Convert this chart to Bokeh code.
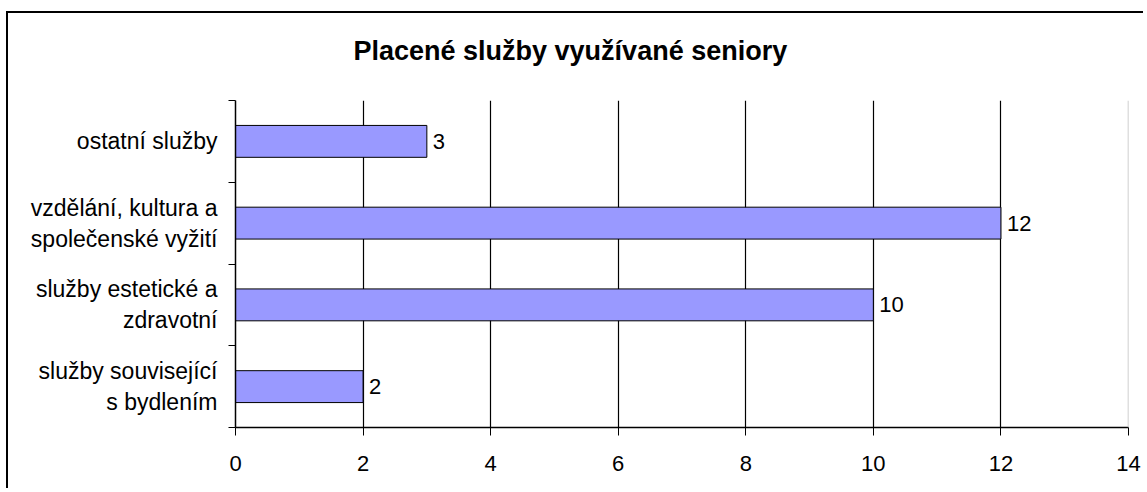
import numpy as np
from bokeh.plotting import figure
from bokeh.models import FixedTicker, Span, Range1d, Title
from bokeh.core.properties import value
from bokeh.embed import file_html
from bokeh.resources import INLINE

# Data (bottom to top)
categories = [
    "služby související\ns bydlením",
    "služby estetické a\nzdravotní",
    "vzdělání, kultura a\nspolečenské vyžití",
    "ostatní služby",
]
values = [2, 10, 12, 3]
x_ticks = [0, 2, 4, 6, 8, 10, 12, 14]
title_text = "Placené služby využívané seniory"

FONT = "Liberation Sans"

ypos = np.arange(len(categories)) + 0.5

p = figure(
    width=1137, height=477,
    output_backend="svg", toolbar_location=None,
    x_range=Range1d(0, 14), y_range=Range1d(0, len(categories)),
    min_border_left=227, min_border_right=17, min_border_top=87, min_border_bottom=63,
)
p.styles = {"border-left": "2px solid black", "border-top": "2px solid black",
            "margin-top": "11px", "margin-left": "6px"}
p.outline_line_color = None
p.background_fill_color = "white"
p.border_fill_color = "white"

# spacer between the title and the plot area
p.add_layout(Title(text=" ", text_font_size="1px", standoff=32), "above")

p.title.text = title_text
p.title.text_font = FONT
p.title.text_font_size = "27px"
p.title.text_font_style = "bold"
p.title.text_color = "black"
p.title.align = "left"
p.title.offset = 118
p.title.standoff = 0

# bars
p.hbar(y=ypos, right=values, left=0, height=0.39, fill_color="#9999FF",
       line_color="black", line_width=1)
p.text(x=values, y=ypos, text=[str(v) for v in values], x_offset=6,
       text_baseline="middle", text_align="left",
       text_font=value(FONT), text_font_size="22px", text_color="black")

# x axis
xa = p.xaxis[0]
xa.ticker = FixedTicker(ticks=x_ticks)
xa.major_tick_out = 8
xa.major_tick_in = 0
xa.minor_tick_out = 0
xa.minor_tick_in = 0
xa.axis_line_color = "black"
xa.axis_line_width = 1.5
xa.major_tick_line_color = "black"
xa.major_label_text_font = FONT
xa.major_label_text_font_size = "22px"
xa.major_label_text_color = "black"
xa.major_label_standoff = 20

# y axis
ya = p.yaxis[0]
ya.ticker = FixedTicker(ticks=list(ypos), minor_ticks=list(range(len(categories) + 1)))
ya.major_label_overrides = {float(y): c for y, c in zip(ypos, categories)}
ya.major_tick_out = 0
ya.major_tick_in = 0
ya.minor_tick_out = 7
ya.minor_tick_in = 0
ya.minor_tick_line_color = "black"
ya.axis_line_color = "black"
ya.axis_line_width = 1.5
ya.major_label_text_font = FONT
ya.major_label_text_font_size = "23px"
ya.major_label_text_color = "black"
ya.major_label_standoff = 11

# grid
p.ygrid.grid_line_color = None
p.xgrid.ticker = FixedTicker(ticks=x_ticks[1:-1])
p.xgrid.grid_line_color = "black"
p.xgrid.grid_line_width = 1.2

p.add_layout(Span(location=14, dimension="height", line_color="#c0c0c0", line_width=1.5))

open("out.html", "w").write(file_html(p, INLINE))
